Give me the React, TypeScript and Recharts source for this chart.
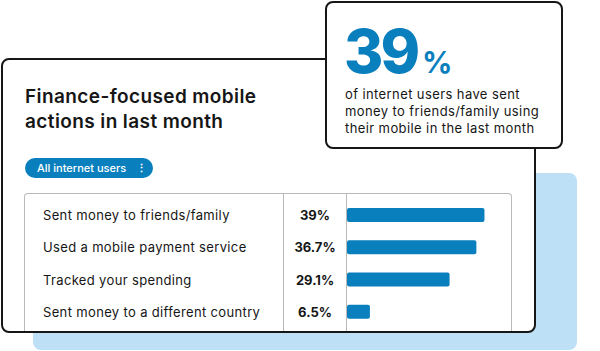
import { BarChart, Bar, XAxis, YAxis } from "recharts";

const actions = [
  "Sent money to friends/family",
  "Used a mobile payment service",
  "Tracked your spending",
  "Sent money to a different country",
];
const shares = [39, 36.7, 29.1, 6.5];

const headline = "39";
const calloutLines = [
  "of internet users have sent",
  "money to friends/family using",
  "their mobile in the last month",
];

const BLUE = "#0a7fbd";
const INK = "#161616";
const FONT = "Inter, 'Noto Sans', sans-serif";

const rows = actions.map((label, i) => ({ label, share: shares[i] }));

function RowTick(props: any) {
  const { y, payload } = props;
  const v = shares[payload.index];
  return (
    <g>
      <text
        x={19}
        y={y}
        dominantBaseline="central"
        fontSize={13}
        letterSpacing={0.35}
        fill={INK}
        fontFamily={FONT}
      >
        {payload.value}
      </text>
      <text
        x={291}
        y={y}
        dominantBaseline="central"
        textAnchor="middle"
        fontSize={13}
        fontWeight={700}
        fill={INK}
        fontFamily={FONT}
      >
        {`${v}%`}
      </text>
    </g>
  );
}

export default function App() {
  return (
    <div
      style={{
        position: "absolute",
        left: 0,
        top: 0,
        width: 600,
        height: 351,
        background: "#fff",
        fontFamily: FONT,
        color: INK,
        overflow: "hidden",
      }}
    >
      {/* light blue backdrop */}
      <div
        style={{
          position: "absolute",
          left: 33,
          top: 173,
          width: 544,
          height: 177,
          borderRadius: 8,
          background: "#bee0f7",
        }}
      />

      {/* main card */}
      <div
        style={{
          position: "absolute",
          left: 1,
          top: 58,
          width: 535,
          height: 275,
          boxSizing: "border-box",
          border: `2px solid ${INK}`,
          borderRadius: 8,
          background: "#fff",
        }}
      />
      <div
        style={{
          position: "absolute",
          left: 25,
          top: 84,
          fontSize: 19,
          fontWeight: 600,
          lineHeight: "25px",
          letterSpacing: 0.4,
        }}
      >
        Finance-focused mobile
        <br />
        actions in last month
      </div>
      <div
        style={{
          position: "absolute",
          left: 25,
          top: 158,
          width: 128,
          height: 20,
          borderRadius: 10,
          background: BLUE,
          color: "#fff",
          fontSize: 11,
          fontWeight: 500,
          lineHeight: "20px",
          paddingLeft: 12,
          boxSizing: "border-box",
        }}
      >
        All internet users
        <span style={{ position: "absolute", left: 111, fontWeight: 700 }}>⋮</span>
      </div>

      {/* table frame */}
      <div
        style={{
          position: "absolute",
          left: 24,
          top: 193,
          width: 488,
          height: 138,
          boxSizing: "border-box",
          border: "1px solid #b9b9b9",
          borderBottom: "none",
          borderRadius: "4px 4px 0 0",
        }}
      />
      <div style={{ position: "absolute", left: 283, top: 194, width: 1, height: 137, background: "#b9b9b9" }} />
      <div style={{ position: "absolute", left: 346, top: 194, width: 1, height: 137, background: "#b9b9b9" }} />

      <div style={{ position: "absolute", left: 24, top: 193 }}>
        <BarChart
          width={488}
          height={140}
          data={rows}
          layout="vertical"
          margin={{ top: 6, right: 24, bottom: 5, left: 0 }}
        >
          <XAxis type="number" domain={[0, 40]} hide />
          <YAxis
            type="category"
            dataKey="label"
            width={323}
            axisLine={false}
            tickLine={false}
            tick={<RowTick />}
            interval={0}
          />
          <Bar dataKey="share" fill={BLUE} barSize={14} radius={2} isAnimationActive={false} />
        </BarChart>
      </div>

      {/* callout */}
      <div
        style={{
          position: "absolute",
          left: 325,
          top: 1,
          width: 238,
          height: 148,
          boxSizing: "border-box",
          border: `2px solid ${INK}`,
          borderRadius: 8,
          background: "#fff",
        }}
      >
        <div
          style={{
            position: "absolute",
            left: 17,
            top: 12,
            color: BLUE,
            fontWeight: 800,
            fontSize: 60,
            lineHeight: "72px",
            letterSpacing: -3,
            whiteSpace: "nowrap",
          }}
        >
          {headline}
          <span style={{ fontSize: 30, fontWeight: 700, letterSpacing: 0, marginLeft: 5 }}>%</span>
        </div>
        <div
          style={{
            position: "absolute",
            left: 18,
            top: 83,
            fontSize: 13,
            lineHeight: "17px",
            letterSpacing: 0.4,
            whiteSpace: "nowrap",
          }}
        >
          {calloutLines.map((l) => (
            <div key={l}>{l}</div>
          ))}
        </div>
      </div>
    </div>
  );
}
